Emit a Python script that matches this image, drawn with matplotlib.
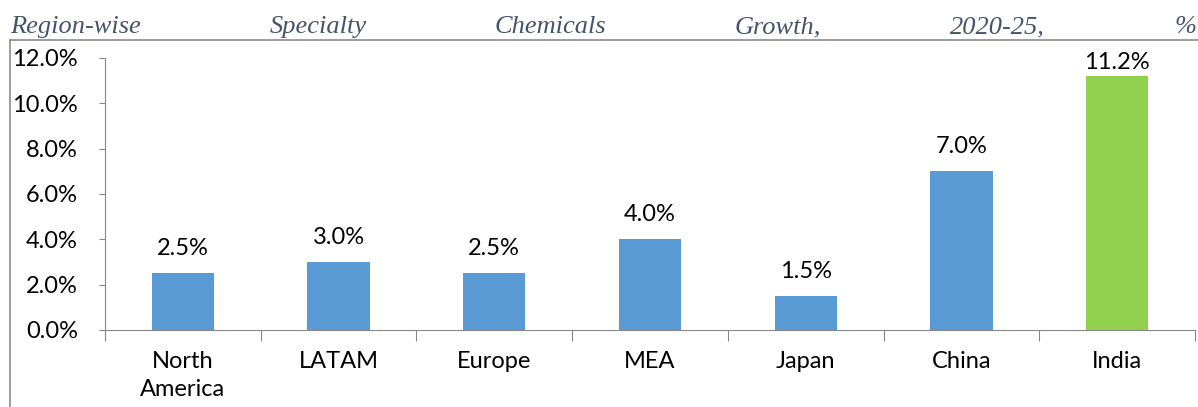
import matplotlib
matplotlib.use('Agg')
import numpy as np
import matplotlib.pyplot as plt
from matplotlib.lines import Line2D

regions = ['North\nAmerica', 'LATAM', 'Europe', 'MEA', 'Japan', 'China', 'India']
growth = [2.5, 3.0, 2.5, 4.0, 1.5, 7.0, 11.2]
bar_colors = ['#5B9BD5'] * 6 + ['#92D050']
title_words = ['Region-wise', 'Specialty', 'Chemicals', 'Growth,', '2020-25,', '%']
yticks = [0, 2, 4, 6, 8, 10, 12]

W, H = 1198, 407
fig = plt.figure(figsize=(W / 100, H / 100), dpi=100)
ax = fig.add_axes([105 / W, (H - 330) / H, (1195 - 105) / W, (330 - 58) / H])

x = np.arange(len(regions))
ax.bar(x, growth, width=0.4, color=bar_colors, zorder=2)
for xi, v in zip(x, growth):
    # labels near the top get pushed down to stay inside the plot area
    off = 10 if v < 10 else 2
    ax.annotate('%.1f%%' % v, (xi, v), xytext=(0, off), textcoords='offset points',
                ha='center', va='bottom', fontsize=17, family='Lato')

ax.set_xlim(-0.5, len(regions) - 0.5)
ax.set_ylim(0, 12)
ax.set_yticks(yticks)
ax.set_yticklabels(['%.1f%%' % t for t in yticks], fontsize=17, family='Lato')
ax.set_xticks(np.arange(len(regions) + 1) - 0.5)
ax.set_xticklabels([])
ax.set_xticks(x, minor=True)
ax.set_xticklabels(regions, minor=True, fontsize=17, family='Lato', linespacing=1.45)
ax.tick_params(axis='x', which='major', length=8, color='#868686', direction='out')
ax.tick_params(axis='x', which='minor', length=0, pad=15)
ax.tick_params(axis='y', length=4.5, color='#868686', pad=15)
for s in ['top', 'right']:
    ax.spines[s].set_visible(False)
for s in ['left', 'bottom']:
    ax.spines[s].set_color('#868686')

# outer chart frame
fig.add_artist(Line2D([10 / W, 10 / W], [0, 1 - 40 / H], transform=fig.transFigure,
                      color='#8c8c8c', lw=1.2))
fig.add_artist(Line2D([10 / W, 1], [1 - 40 / H, 1 - 40 / H], transform=fig.transFigure,
                      color='#8c8c8c', lw=1.2))

# justified title
starts = [10, 270, 495, 735, 950, 1175]
for word, px in zip(title_words, starts):
    fig.text(px / W, 1 - 33 / H, word, fontsize=19, style='italic',
             family='Liberation Serif', color='#44546A', ha='left', va='baseline')

fig.savefig('out.png', dpi=100)
